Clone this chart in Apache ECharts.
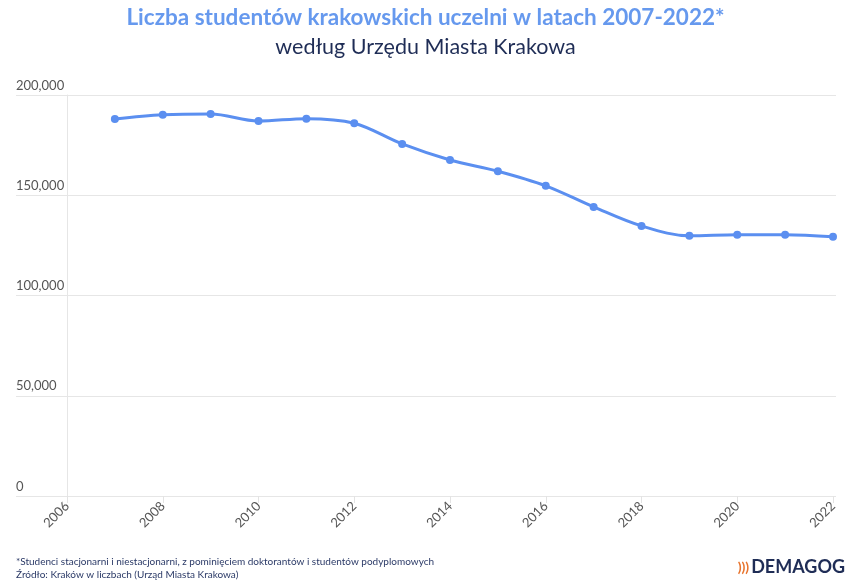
<!DOCTYPE html>
<html>
<head>
<meta charset="utf-8">
<script src="https://cdn.jsdelivr.net/npm/echarts@6/dist/echarts.min.js"></script>
<style>html,body{margin:0;padding:0;background:#fff}#c{width:851px;height:587px}</style>
</head>
<body>
<div id="c"></div>
<script>
var years = [2007,2008,2009,2010,2011,2012,2013,2014,2015,2016,2017,2018,2019,2020,2021,2022];
var students = [188000,190200,190500,187000,188200,185900,175600,167600,162000,154700,144200,134700,129800,130300,130300,129300];
var yTicks = [0,50000,100000,150000,200000];
var titleText = 'Liczba studentów krakowskich uczelni w latach 2007-2022*';
var subtitleText = 'według Urzędu Miasta Krakowa';
var footnote1 = '*Studenci stacjonarni i niestacjonarni, z pominięciem doktorantów i studentów podyplomowych';
var footnote2 = 'Źródło: Kraków w liczbach (Urząd Miasta Krakowa)';

var chart = echarts.init(document.getElementById('c'), null, {renderer:'canvas'});
var fmt = function(v){ return v.toString().replace(/\B(?=(\d{3})+(?!\d))/g, ','); };
var font = 'Lato, "Open Sans", sans-serif';
chart.setOption({
  animation:false,
  backgroundColor:'#fff',
  title:[
    {text:titleText, left:'center', top:1, textStyle:{fontFamily:font, fontSize:22.5, fontWeight:'bold', color:'#6699ee'}},
    {text:subtitleText, left:'center', top:31, textStyle:{fontFamily:font, fontSize:21.5, fontWeight:'normal', color:'#1f2d56'}}
  ],
  grid:[
    {left:16, right:15, top:95, bottom:91},
    {left:67, right:18, top:95, bottom:91}
  ],
  xAxis:[
    {gridIndex:0, type:'value', show:false, min:0, max:1},
    {gridIndex:1, type:'value', min:2006, max:2022, interval:2,
      axisLine:{show:false},
      axisTick:{show:true, length:7, lineStyle:{color:'#e3e3e3'}},
      splitLine:{show:false},
      axisLabel:{rotate:45, color:'#555', fontFamily:font, fontSize:13, margin:8, formatter:function(v){return String(v);}}}
  ],
  yAxis:[
    {gridIndex:0, type:'value', min:0, max:200000, interval:50000,
      axisLine:{show:false}, axisTick:{show:false},
      splitLine:{lineStyle:{color:'#e6e6e6', width:1}},
      axisLabel:{inside:true, margin:0, verticalAlign:'bottom', padding:[0,0,3,0], color:'#555', fontFamily:font, fontSize:13, formatter:fmt}},
    {gridIndex:1, type:'value', min:0, max:200000, interval:50000,
      axisLine:{show:true, lineStyle:{color:'#e6e6e6'}}, axisTick:{show:false},
      splitLine:{show:false}, axisLabel:{show:false}}
  ],
  series:[{
    type:'line', xAxisIndex:1, yAxisIndex:1,
    data: years.map(function(y,i){return [y, students[i]];}),
    smooth:0.35, symbol:'circle', symbolSize:8,
    lineStyle:{color:'#5b8ff0', width:3},
    itemStyle:{color:'#5b8ff0'}
  }],
  graphic:[
    {type:'text', left:16, top:557, style:{text:footnote1, fontFamily:font, fontSize:10, fill:'#2b3a67'}},
    {type:'text', left:16, top:570, style:{text:footnote2, fontFamily:font, fontSize:10, fill:'#2b3a67'}},
    {type:'text', right:6, top:558, style:{text:'{a|)))}{b|DEMAGOG}', rich:{
      a:{fontFamily:font, fontSize:14, fontWeight:'bold', fill:'#e8742d', color:'#e8742d', padding:[0,2,0,0]},
      b:{fontFamily:font, fontSize:18, fontWeight:'bold', fill:'#1f2d56', color:'#1f2d56'}}}}
  ]
});
</script>
</body>
</html>
